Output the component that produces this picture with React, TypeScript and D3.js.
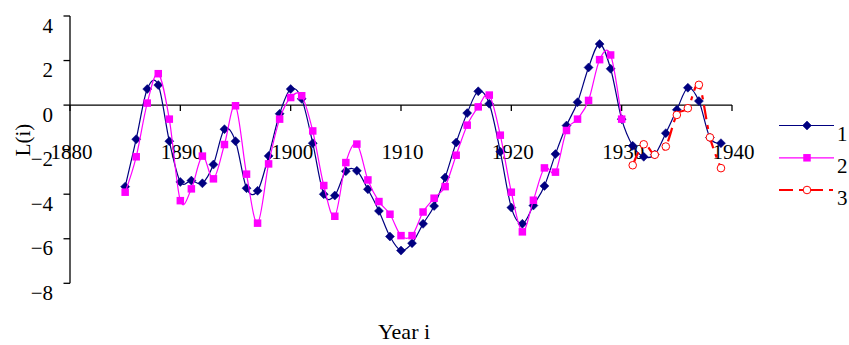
import React from "react";
import * as d3 from "d3";

const years1 = [1885,1886,1887,1888,1889,1890,1891,1892,1893,1894,1895,1896,1897,1898,1899,1900,1901,1902,1903,1904,1905,1906,1907,1908,1909,1910,1911,1912,1913,1914,1915,1916,1917,1918,1919,1920,1921,1922,1923,1924,1925,1926,1927,1928,1929,1930,1931,1932,1933,1934,1935,1936,1937,1938,1939];
const series1 = [-3.66,-1.53,0.72,0.90,-1.62,-3.45,-3.39,-3.51,-2.67,-1.08,-1.62,-3.73,-3.85,-2.28,-0.39,0.72,0.28,-1.71,-4.00,-4.06,-2.97,-2.95,-3.78,-4.75,-5.90,-6.53,-6.20,-5.33,-4.53,-3.25,-1.68,-0.36,0.62,0.06,-2.09,-4.60,-5.33,-4.51,-3.63,-2.20,-0.92,0.13,1.69,2.74,1.63,-0.63,-1.83,-2.32,-2.22,-1.26,-0.21,0.78,0.18,-1.46,-1.71];

const years2 = [1885,1886,1887,1888,1889,1890,1891,1892,1893,1894,1895,1896,1897,1898,1899,1900,1901,1902,1903,1904,1905,1906,1907,1908,1909,1910,1911,1912,1913,1914,1915,1916,1917,1918,1919,1920,1921,1922,1923,1924,1925,1926,1927,1928,1929,1930];
const series2 = [-3.91,-2.32,0.09,1.41,-0.63,-4.29,-3.76,-2.29,-3.31,-1.77,-0.03,-3.10,-5.30,-2.64,-0.63,0.34,0.42,-1.16,-3.61,-4.99,-2.58,-1.75,-3.36,-4.33,-4.90,-5.86,-5.86,-4.80,-4.18,-3.66,-2.25,-0.90,-0.08,0.45,-1.35,-3.91,-5.69,-4.27,-2.82,-3.01,-1.14,-0.63,0.21,2.04,2.25,-0.63];

const years3 = [1931,1932,1933,1934,1935,1936,1937,1938,1939];
const series3 = [-2.70,-1.76,-2.23,-1.86,-0.44,-0.14,0.91,-1.45,-2.83];

const xTicks = [1880, 1890, 1900, 1910, 1920, 1930, 1940];
const yTicks = [4, 2, 0, -2, -4, -6, -8];
const seriesNames = ["1", "2", "3"];
const xTitle = "Year i";
const yTitle = "L(i)";

const W = 849;
const H = 345;
const FONT = "'Liberation Serif', 'Times New Roman', serif";
const NAVY = "#000080";
const MAGENTA = "#FF00FF";
const RED = "#FF0000";
const DASH = "14,6,4,6";

const x = d3.scaleLinear().domain([1880, 1940]).range([70, 732]);
const y = d3.scaleLinear().domain([-8, 4]).range([283.3, 16]);

const lineGen = d3
  .line<[number, number]>()
  .x((d) => x(d[0]))
  .y((d) => y(d[1]))
  .curve(d3.curveCatmullRom.alpha(0));

function zip(xs: number[], vs: number[]): [number, number][] {
  return xs.map((yr, i) => [yr, vs[i]]);
}

function Diamond({ cx, cy }: { cx: number; cy: number }) {
  const r = 4.5;
  return (
    <path
      d={`M${cx},${cy - r}L${cx + r},${cy}L${cx},${cy + r}L${cx - r},${cy}Z`}
      fill={NAVY}
      stroke={NAVY}
      strokeWidth={0.5}
    />
  );
}

function Square({ cx, cy }: { cx: number; cy: number }) {
  const s = 7.5;
  return <rect x={cx - s / 2} y={cy - s / 2} width={s} height={s} fill={MAGENTA} />;
}

function Circle({ cx, cy }: { cx: number; cy: number }) {
  return <circle cx={cx} cy={cy} r={3.8} fill="#fff" stroke={RED} strokeWidth={1} />;
}

export default function App() {
  const d1 = zip(years1, series1);
  const d2 = zip(years2, series2);
  const d3s = zip(years3, series3);
  const y0 = y(0);
  const legendY = [125.5, 157.8, 190];
  return (
    <svg
      width={W}
      height={H}
      style={{ position: "absolute", left: 0, top: 0, background: "#fff" }}
      fontFamily={FONT}
    >
      <rect x={0} y={0} width={W} height={H} fill="#fff" />
      {/* Y axis */}
      <line x1={70} x2={70} y1={y(4)} y2={y(-8)} stroke="#000" strokeWidth={1.3} />
      {yTicks.map((t) => (
        <g key={"y" + t}>
          <line x1={63.5} x2={70} y1={y(t)} y2={y(t)} stroke="#000" strokeWidth={1.3} />
          <text x={53} y={y(t) + 16.5} textAnchor="end" fontSize={21} fill="#000">
            {t < 0 ? "\u2212" + Math.abs(t) : String(t)}
          </text>
        </g>
      ))}
      {/* X axis */}
      <line x1={70} x2={732} y1={y0} y2={y0} stroke="#000" strokeWidth={1.3} />
      {xTicks.map((t) => (
        <g key={"x" + t}>
          <line x1={x(t)} x2={x(t)} y1={y0} y2={y0 + 6} stroke="#000" strokeWidth={1.3} />
          <text x={x(t) + 1.5} y={159} textAnchor="middle" fontSize={21} fill="#000">
            {t}
          </text>
        </g>
      ))}
      <text x={404} y={339} textAnchor="middle" fontSize={22} fill="#000">
        {xTitle}
      </text>
      <text
        transform="translate(30,140) rotate(-90)"
        textAnchor="middle"
        fontSize={21}
        fill="#000"
      >
        {yTitle}
      </text>

      {/* Series 1 */}
      <path d={lineGen(d1) || ""} fill="none" stroke={NAVY} strokeWidth={1.2} />
      {d1.map((d, i) => (
        <Diamond key={"d" + i} cx={x(d[0])} cy={y(d[1])} />
      ))}
      {/* Series 2 */}
      <path d={lineGen(d2) || ""} fill="none" stroke={MAGENTA} strokeWidth={1.2} />
      {d2.map((d, i) => (
        <Square key={"s" + i} cx={x(d[0])} cy={y(d[1])} />
      ))}
      {/* Series 3 */}
      <path d={lineGen(d3s) || ""} fill="none" stroke={RED} strokeWidth={2.2} strokeDasharray={DASH} />
      {d3s.map((d, i) => (
        <Circle key={"c" + i} cx={x(d[0])} cy={y(d[1])} />
      ))}

      {/* Legend */}
      <line x1={779} x2={834} y1={legendY[0]} y2={legendY[0]} stroke={NAVY} strokeWidth={1.2} />
      <Diamond cx={807} cy={legendY[0]} />
      <text x={837} y={legendY[0] + 15} fontSize={21} fill="#000">{seriesNames[0]}</text>

      <line x1={779} x2={834} y1={legendY[1]} y2={legendY[1]} stroke={MAGENTA} strokeWidth={1.2} />
      <Square cx={807} cy={legendY[1]} />
      <text x={837} y={legendY[1] + 15} fontSize={21} fill="#000">{seriesNames[1]}</text>

      <line x1={779} x2={834} y1={legendY[2]} y2={legendY[2]} stroke={RED} strokeWidth={2.2} strokeDasharray={DASH} />
      <Circle cx={807} cy={legendY[2]} />
      <text x={837} y={legendY[2] + 15} fontSize={21} fill="#000">{seriesNames[2]}</text>
    </svg>
  );
}
